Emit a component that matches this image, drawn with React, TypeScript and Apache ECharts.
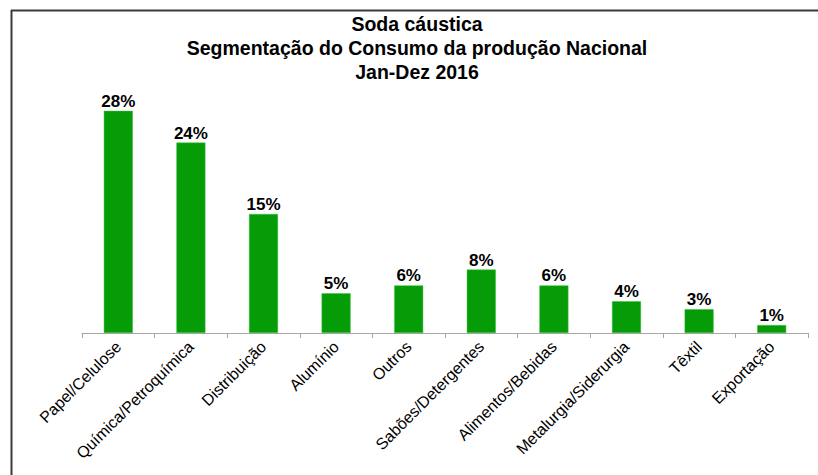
import React, { useEffect, useRef } from "react";
import * as echarts from "echarts";

const titleLines = ["Soda cáustica", "Segmentação do Consumo da produção Nacional", "Jan-Dez 2016"];
const categories = [
  "Papel/Celulose",
  "Química/Petroquímica",
  "Distribuição",
  "Alumínio",
  "Outros",
  "Sabões/Detergentes",
  "Alimentos/Bebidas",
  "Metalurgia/Siderurgia",
  "Têxtil",
  "Exportação",
];
const values = [28, 24, 15, 5, 6, 8, 6, 4, 3, 1];

export default function App() {
  const ref = useRef<HTMLDivElement>(null);
  useEffect(() => {
    if (!ref.current) return;
    const chart = echarts.init(ref.current, undefined, { renderer: "svg" });
    chart.setOption({
      animation: false,
      backgroundColor: "#ffffff",
      title: {
        text: titleLines.join("\n"),
        left: 412,
        textAlign: "center",
        top: 7,
        textStyle: {
          fontFamily: "Liberation Sans, Arial, sans-serif",
          fontWeight: "bold",
          fontSize: 19.5,
          lineHeight: 24,
          color: "#000",
        },
      },
      grid: { left: 82, right: 10, top: 95, bottom: 142, containLabel: false },
      xAxis: {
        type: "category",
        data: categories,
        axisLine: { lineStyle: { color: "#a6a6a6", width: 1 } },
        axisTick: { show: true, length: 5, lineStyle: { color: "#a6a6a6" } },
        axisLabel: {
          rotate: 45,
          interval: 0,
          margin: 11,
          color: "#000",
          fontSize: 16,
          fontFamily: "Liberation Sans, Arial, sans-serif",
        },
      },
      yAxis: {
        type: "value",
        min: 0,
        max: 30,
        show: false,
        splitLine: { show: false },
      },
      series: [
        {
          type: "bar",
          data: values,
          barWidth: 29,
          itemStyle: { color: "#069c08", borderColor: "#3fbf3f", borderWidth: 0.5 },
          label: {
            show: true,
            position: "top",
            distance: 1,
            formatter: "{c}%",
            color: "#000",
            fontWeight: "bold",
            fontSize: 17,
            fontFamily: "Liberation Sans, Arial, sans-serif",
          },
        },
      ],
      graphic: [
        { type: "line", shape: { x1: 11, y1: 10.5, x2: 818, y2: 10.5 }, style: { stroke: "#3a3a3a", lineWidth: 2 } },
        { type: "line", shape: { x1: 11.5, y1: 10, x2: 11.5, y2: 475 }, style: { stroke: "#3a3a3a", lineWidth: 2 } },
      ],
    });
    return () => chart.dispose();
  }, []);
  return <div ref={ref} style={{ width: 818, height: 475, position: "absolute", left: 0, top: 0 }} />;
}
